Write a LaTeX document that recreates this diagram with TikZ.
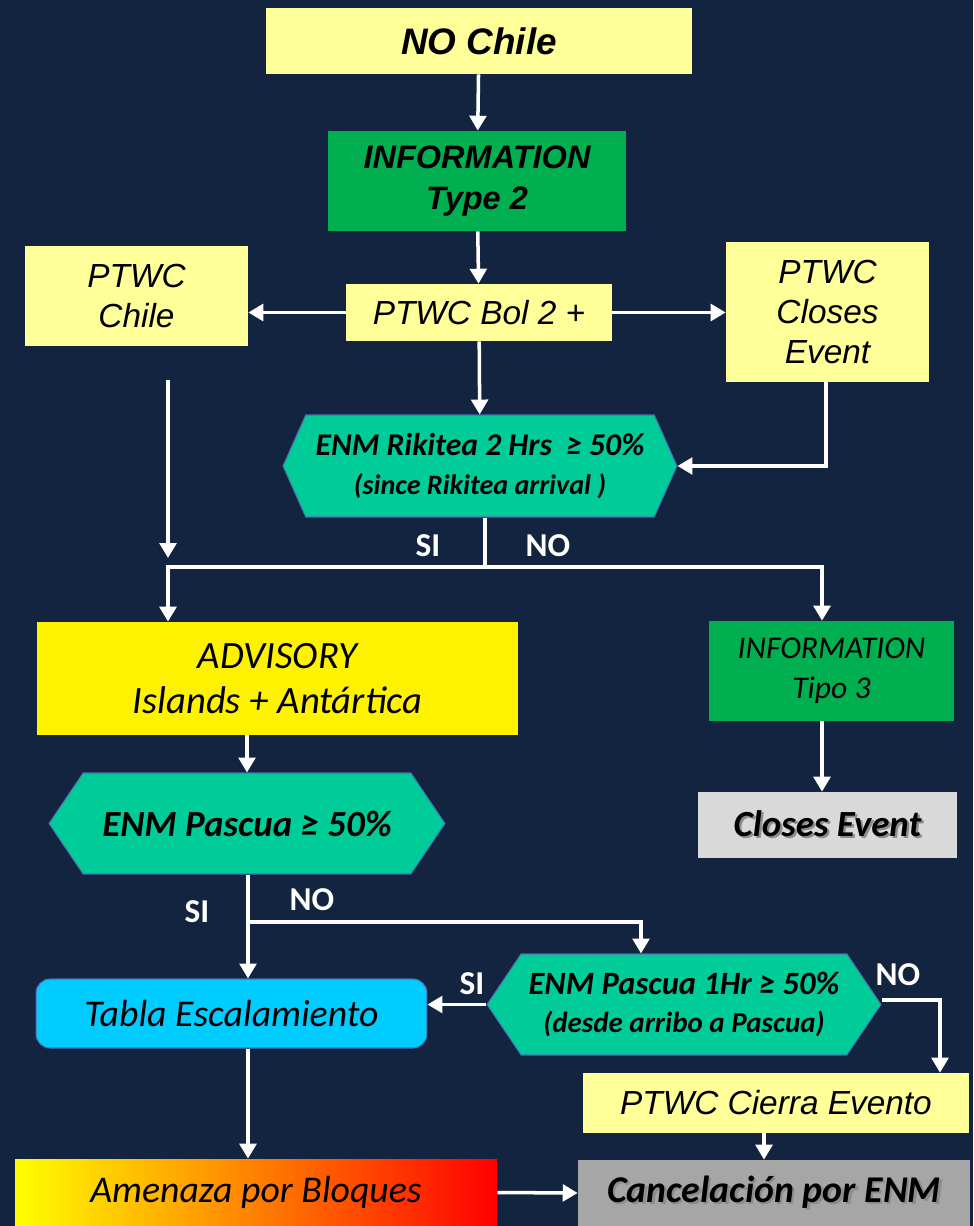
\documentclass[tikz,border=0pt]{standalone}
\usepackage{fontspec}
\setmainfont{Carlito}
\newfontfamily\arialfont{Liberation Sans}
\usetikzlibrary{arrows.meta,shapes.symbols}
\definecolor{navy}{HTML}{12243F}
\definecolor{paleyel}{HTML}{FFFF99}
\definecolor{infogreen}{HTML}{00B050}
\definecolor{enmgreen}{HTML}{00CC99}
\definecolor{enmline}{HTML}{4A6FB5}
\definecolor{tablablue}{HTML}{00CCFF}
\newcommand{\shtext}[1]{\rlap{\hspace{1.3pt}\raisebox{-1.3pt}{\color{black!45}#1}}#1}
\tikzset{
  box/.style={rectangle, inner sep=0pt, align=center, text=black},
  ptwc/.style={box, fill=paleyel, font=\arialfont\itshape\fontsize{19}{22.8}\selectfont},
  hexa/.style={shape=signal, signal to=east and west, inner sep=0pt, fill=enmgreen,
    draw=enmline, line width=0.6pt, align=center,
    font=\bfseries\itshape\fontsize{18}{22.5}\selectfont},
  flow/.style={draw=white, line width=2pt, -{Triangle[length=8.5pt,width=9.5pt]}},
  link/.style={draw=white, line width=2pt},
  answer/.style={text=white, font=\bfseries\fontsize{19}{22}\selectfont}
}
\begin{document}
\begin{tikzpicture}[x=0.02cm, y=-0.02cm]
\fill[navy] (0,0) rectangle (973,1226);
\useasboundingbox (0,0) rectangle (973,1226);

% upper part
\node[box, fill=paleyel, minimum width=8.52cm, minimum height=1.32cm,
  font=\arialfont\bfseries\itshape\fontsize{21}{25}\selectfont] (nochile) at (479,41) {NO Chile};
\node[box, fill=infogreen, minimum width=5.96cm, minimum height=2cm,
  font=\arialfont\bfseries\itshape\fontsize{18.5}{23.2}\selectfont] (info2) at (477,181) {INFORMATION\\Type 2};
\node[ptwc, minimum width=4.46cm, minimum height=2cm] (ptwcchile) at (136.5,296) {PTWC\\Chile};
\node[ptwc, minimum width=5.32cm, minimum height=1.14cm] (bol) at (479,312.5) {PTWC Bol 2 +};
\node[ptwc, minimum width=4.06cm, minimum height=2.8cm] (closes) at (827.5,312) {PTWC\\Closes\\Event};
\node[hexa, signal pointer angle=132, minimum width=7.88cm, minimum height=2.04cm] (rikitea) at (480,466)
  {ENM Rikitea 2 Hrs\ \ ≥ 50\%\\{\fontsize{16}{22.5}\selectfont (since Rikitea arrival )}};

% middle part
\node[box, fill=yellow, minimum width=9.62cm, minimum height=2.26cm,
  font=\itshape\fontsize{22}{25.6}\selectfont] (advisory) at (277.5,678.5) {ADVISORY\\Islands + Antártica};
\node[box, fill=infogreen, minimum width=4.9cm, minimum height=2cm,
  font=\itshape\fontsize{18}{22.8}\selectfont] (info3) at (831.5,671) {INFORMATION\\Tipo 3};
\node[box, fill=black!15, minimum width=5.18cm, minimum height=1.32cm,
  font=\bfseries\itshape\fontsize{21}{25}\selectfont] (closesev) at (827.5,825) {\shtext{Closes Event}};
\node[hexa, signal pointer angle=112, minimum width=7.92cm, minimum height=2.02cm,
  font=\bfseries\itshape\fontsize{21}{25}\selectfont] (pascua) at (247,823.5) {ENM Pascua ≥ 50\%};

% lower part
\node[box, fill=tablablue, draw=enmline, line width=0.6pt, rounded corners=8pt,
  minimum width=7.82cm, minimum height=1.38cm,
  font=\itshape\fontsize{21.5}{25}\selectfont] (tabla) at (231.5,1013.5) {Tabla Escalamiento};
\node[hexa, signal pointer angle=112, minimum width=7.88cm, minimum height=2.02cm,
  font=\bfseries\itshape\fontsize{18.5}{22}\selectfont] (pascua1) at (684,1004.5)
  {ENM Pascua 1Hr ≥ 50\%\\{\fontsize{16.5}{22}\selectfont (desde arribo a Pascua)}};
\node[ptwc, minimum width=7.72cm, minimum height=1.2cm] (cierra) at (776,1103) {PTWC Cierra Evento};
\node[box, left color=yellow, right color=red, minimum width=9.64cm, minimum height=1.34cm,
  font=\itshape\fontsize{21.5}{25}\selectfont] (amenaza) at (256,1192.5) {Amenaza por Bloques};
\node[box, fill=black!35, minimum width=7.84cm, minimum height=1.32cm,
  font=\bfseries\itshape\fontsize{21.5}{25}\selectfont] (cancel) at (774,1193) {\shtext{Cancelación por ENM}};

% answers
\node[answer] (si1) at (428,546) {SI};
\node[answer] (no1) at (548,546) {NO};
\node[answer] (si2) at (197,912) {SI};
\node[answer] (no2) at (312,900) {NO};
\node[answer] (si3) at (472,984) {SI};
\node[answer] (no3) at (898,975) {NO};

% helper points
\coordinate (chiletop) at (168,380);
\coordinate (chilebot) at (168,558);
\coordinate (jl) at (168,567);
\coordinate (jr) at (822,567);
\coordinate (j2) at (248,922);
\coordinate (j2r) at (641,922);
\coordinate (k) at (940,1000);

% connectors
\draw[flow] (nochile) -- (info2);
\draw[flow] (info2) -- (bol);
\draw[flow] (bol.west) -- (bol.west -| ptwcchile.east);
\draw[flow] (bol.east) -- (bol.east -| closes.west);
\draw[flow] (bol) -- (rikitea);
\draw[flow] (closes.south -| 826,0) |- (rikitea.east);
\draw[flow] (chiletop) -- (chilebot);
\draw[link] (rikitea.south -| 485,0) -- (jl -| 485,0);
\draw[flow] (jl -| 485,0) -| (jl |- advisory.north);
\draw[flow] (jl -| 485,0) -| (jr |- info3.north);
\draw[flow] (jr |- info3.south) -- (jr |- closesev.north);
\draw[flow] (advisory.south -| pascua.north) -- (pascua.north);
\draw[flow] (pascua.south -| j2) -- (j2 |- tabla.north);
\draw[flow] (j2) -- (j2r) -- (j2r |- pascua1.north);
\draw[flow] (pascua1.west) -- (pascua1.west -| tabla.east);
\draw[flow] (pascua1.east |- k) -- (k) -- (k |- cierra.north);
\draw[flow] (cierra.south -| 764,0) -- (cancel.north -| 764,0);
\draw[flow] (tabla.south -| j2) -- (j2 |- amenaza.north);
\draw[flow] (amenaza.east) -- (cancel.west);
\end{tikzpicture}
\end{document}
